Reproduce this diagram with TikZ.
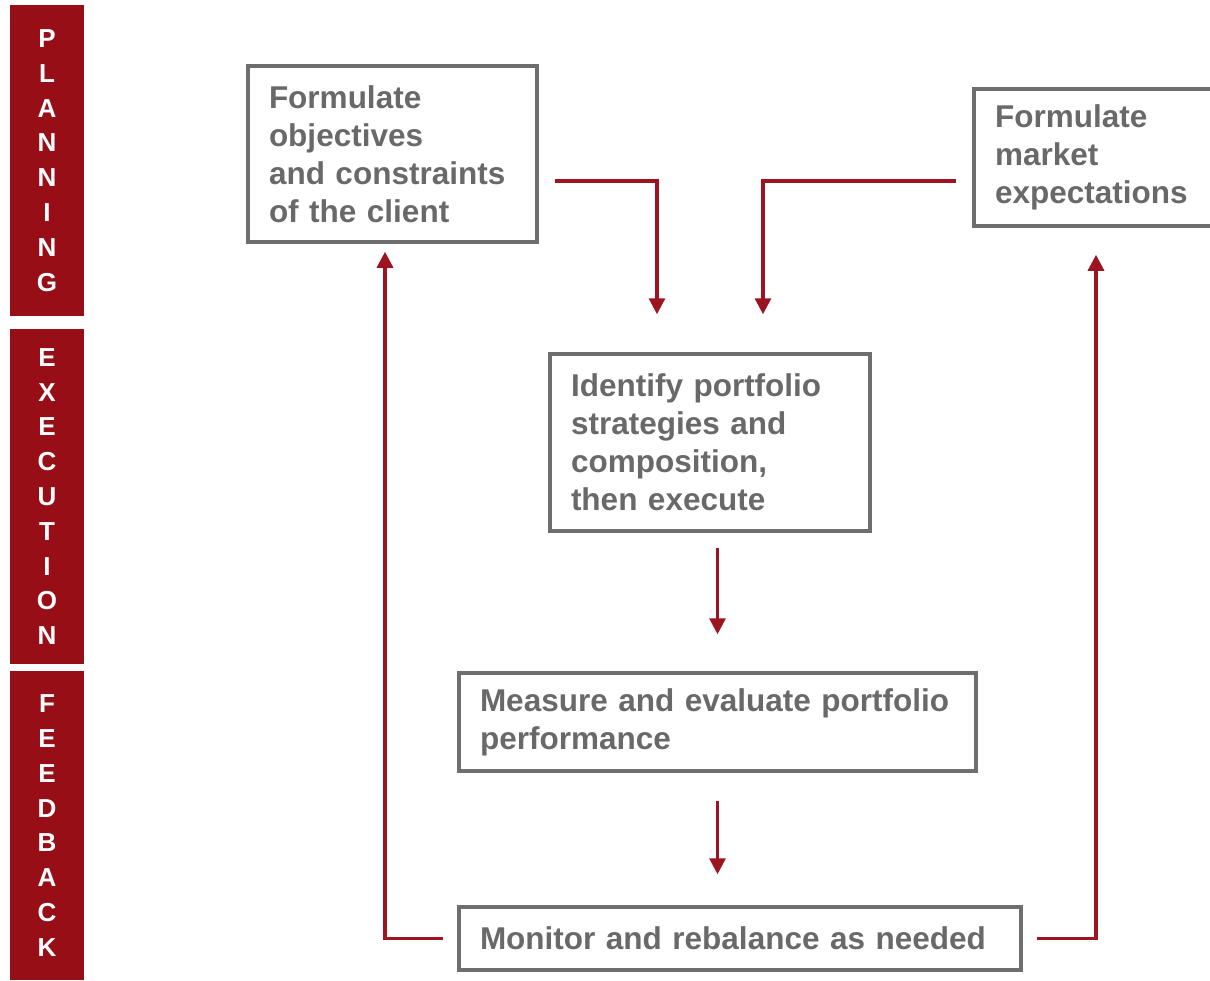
\documentclass[tikz,border=0pt]{standalone}
\usepackage{fontspec}
\setmainfont{Liberation Sans}
\usetikzlibrary{arrows.meta}
\definecolor{barred}{HTML}{970E17}
\definecolor{arrred}{HTML}{9B1420}
\definecolor{boxgray}{HTML}{6E6E6E}
\definecolor{txtgray}{HTML}{696969}
\tikzset{
  bar/.style={fill=barred, text=white, font=\fontsize{26}{34.8}\selectfont\bfseries,
    align=center, inner sep=0pt, minimum width=74pt},
  box/.style={draw=boxgray, line width=3.5pt, text=txtgray,
    font=\fontsize{31.5}{38}\selectfont\bfseries, align=left, inner sep=0pt},
  arr/.style={draw=arrred, line width=3.2pt, -{Triangle[width=16pt,length=16pt]}}
}
\begin{document}
\begin{tikzpicture}[x=1pt,y=-1pt]
\useasboundingbox (0,0) rectangle (1210,980);
\clip (0,0) rectangle (1210,980);
% side bars
\node[bar, minimum height=311pt] (pl) at (47,160.5) {P\\L\\A\\N\\N\\I\\N\\G};
\node[bar, minimum height=335pt] (ex) at (47,496.5) {E\\X\\E\\C\\U\\T\\I\\O\\N};
\node[bar, minimum height=309pt] (fb) at (47,825.5) {F\\E\\E\\D\\B\\A\\C\\K};
% boxes
\node[box, minimum width=289pt, minimum height=176pt, text width=247pt] (b1) at (392.5,154)
  {Formulate\\objectives\\and constraints\\of the client};
\node[box, minimum width=240pt, minimum height=137pt, text width=198pt] (b2) at (1094,157.5)
  {Formulate\\market\\expectations};
\node[box, minimum width=320pt, minimum height=177pt, text width=278pt] (b3) at (710,442.5)
  {Identify portfolio\\strategies and\\composition,\\then execute};
\node[box, minimum width=517pt, minimum height=98pt, text width=475pt] (b4) at (717.5,722)
  {Measure and evaluate portfolio\\performance};
\node[box, minimum width=562pt, minimum height=63pt, text width=520pt] (b5) at (740,938.5)
  {Monitor and rebalance as needed};
% connectors
\draw[arr] ([xshift=16pt,yshift=-27pt]b1.east) -| ([xshift=-53pt,yshift=38pt]b3.north);
\draw[arr] ([xshift=-16pt,yshift=-23.5pt]b2.west) -| ([xshift=53pt,yshift=38pt]b3.north);
\coordinate (t3) at (b4.north |- b3.south);
\draw[arr] ([yshift=-15pt]t3) -- ([yshift=37pt]b4.north);
\coordinate (t4) at (b4.south |- b5.north);
\draw[arr] ([yshift=-28pt]b4.south) -- ([yshift=31pt]t4);
\draw[arr] ([xshift=-14pt]b5.west) -| ([xshift=-7.5pt,yshift=-8pt]b1.south);
\draw[arr] ([xshift=14pt]b5.east) -| ([xshift=2pt,yshift=-27pt]b2.south);
\end{tikzpicture}
\end{document}
